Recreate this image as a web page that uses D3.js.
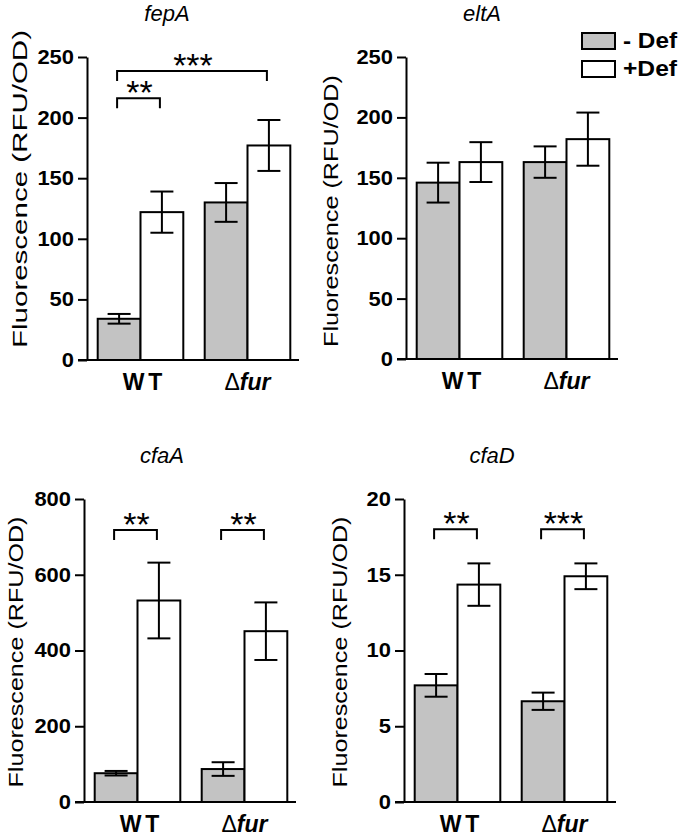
<!DOCTYPE html>
<html>
<head>
<meta charset="utf-8">
<script src="https://cdn.jsdelivr.net/npm/d3@7"></script>
<style>
  html, body { margin: 0; padding: 0; background: #fff; }
  svg { display: block; }
  text { font-family: "Liberation Sans", Arial, sans-serif; fill: #000; }
</style>
</head>
<body>
<div id="chart"></div>
<script>
// ---------------- DATA ----------------
const genes = ["fepA", "eltA", "cfaA", "cfaD"];
const groups = ["WT", "Δfur"];
const series = ["- Def", "+Def"];

const fepA_minus = [34, 130];
const fepA_minus_err = [4, 16];
const fepA_plus = [122, 177];
const fepA_plus_err = [17, 21];

const eltA_minus = [146, 163];
const eltA_minus_err = [16.5, 13];
const eltA_plus = [163, 182];
const eltA_plus_err = [16.5, 22];

const cfaA_minus = [76, 87];
const cfaA_minus_err = [6, 18];
const cfaA_plus = [532, 451];
const cfaA_plus_err = [100, 76];

const cfaD_minus = [7.7, 6.65];
const cfaD_minus_err = [0.75, 0.57];
const cfaD_plus = [14.35, 14.9];
const cfaD_plus_err = [1.4, 0.85];

const fepA_ticks = [0, 50, 100, 150, 200, 250];
const eltA_ticks = [0, 50, 100, 150, 200, 250];
const cfaA_ticks = [0, 200, 400, 600, 800];
const cfaD_ticks = [0, 5, 10, 15, 20];

const yLabel = "Fluorescence (RFU/OD)";

// significance brackets: [group, series] from -> to, height in data units, label
const fepA_sig = [
  { from: ["WT", "- Def"], to: ["WT", "+Def"], y: 216, label: "**" },
  { from: ["WT", "- Def"], to: ["Δfur", "+Def"], y: 238.5, label: "***" }
];
const eltA_sig = [];
const cfaA_sig = [
  { from: ["WT", "- Def"], to: ["WT", "+Def"], y: 718, label: "**" },
  { from: ["Δfur", "- Def"], to: ["Δfur", "+Def"], y: 718, label: "**" }
];
const cfaD_sig = [
  { from: ["WT", "- Def"], to: ["WT", "+Def"], y: 18, label: "**" },
  { from: ["Δfur", "- Def"], to: ["Δfur", "+Def"], y: 18, label: "***" }
];

// ---------------- LAYOUT ----------------
const W = 680, H = 837;
const layout = {
  fepA: { x0: 87,  yTop: 57,  yBot: 360, titleX: 167, titleY: 21,  labX: 27,  labY: 189, labLen: 318 },
  eltA: { x0: 406, yTop: 57,  yBot: 359, titleX: 482, titleY: 21,  labX: 338, labY: 211, labLen: 272 },
  cfaA: { x0: 84,  yTop: 499, yBot: 802, titleX: 162, titleY: 463, labX: 23,  labY: 652, labLen: 271 },
  cfaD: { x0: 404, yTop: 499, yBot: 802, titleX: 492, titleY: 463, labX: 347, labY: 652, labLen: 271 }
};
const colors = { "- Def": "#c3c3c3", "+Def": "#ffffff" };
const SW = 2;

const panelData = {
  fepA: { minus: fepA_minus, minusErr: fepA_minus_err, plus: fepA_plus, plusErr: fepA_plus_err, ticks: fepA_ticks, sig: fepA_sig },
  eltA: { minus: eltA_minus, minusErr: eltA_minus_err, plus: eltA_plus, plusErr: eltA_plus_err, ticks: eltA_ticks, sig: eltA_sig },
  cfaA: { minus: cfaA_minus, minusErr: cfaA_minus_err, plus: cfaA_plus, plusErr: cfaA_plus_err, ticks: cfaA_ticks, sig: cfaA_sig },
  cfaD: { minus: cfaD_minus, minusErr: cfaD_minus_err, plus: cfaD_plus, plusErr: cfaD_plus_err, ticks: cfaD_ticks, sig: cfaD_sig }
};

const svg = d3.select("#chart").append("svg")
  .attr("width", W).attr("height", H);

genes.forEach(g => {
  const L = layout[g];
  const D = panelData[g];
  const gp = svg.append("g");

  const y = d3.scaleLinear()
    .domain([0, d3.max(D.ticks)])
    .range([L.yBot, L.yTop]);

  const x = d3.scaleBand()
    .domain(groups)
    .range([L.x0, L.x0 + 214])
    .paddingInner(0.2)
    .paddingOuter(0.1);

  const xs = d3.scaleBand()
    .domain(series)
    .range([0, x.bandwidth()])
    .padding(0);

  const rows = [];
  groups.forEach((grp, i) => {
    rows.push({ grp, s: "- Def", v: D.minus[i], e: D.minusErr[i] });
    rows.push({ grp, s: "+Def", v: D.plus[i], e: D.plusErr[i] });
  });

  // bars
  gp.selectAll("rect.bar").data(rows).join("rect")
    .attr("class", "bar")
    .attr("x", d => x(d.grp) + xs(d.s))
    .attr("y", d => y(d.v))
    .attr("width", xs.bandwidth())
    .attr("height", d => y(0) - y(d.v))
    .attr("fill", d => colors[d.s])
    .attr("stroke", "#000")
    .attr("stroke-width", SW);

  // error bars
  const cap = 23;
  const mid = d => x(d.grp) + xs(d.s) + xs.bandwidth() / 2;
  const eb = gp.selectAll("g.err").data(rows).join("g").attr("class", "err")
    .attr("stroke", "#000").attr("stroke-width", SW);
  eb.append("line")
    .attr("x1", mid).attr("x2", mid)
    .attr("y1", d => y(d.v + d.e))
    .attr("y2", d => y(d.v - d.e));
  eb.append("line")
    .attr("x1", d => mid(d) - cap / 2)
    .attr("x2", d => mid(d) + cap / 2)
    .attr("y1", d => y(d.v + d.e))
    .attr("y2", d => y(d.v + d.e));
  eb.append("line")
    .attr("x1", d => mid(d) - cap / 2)
    .attr("x2", d => mid(d) + cap / 2)
    .attr("y1", d => y(d.v - d.e))
    .attr("y2", d => y(d.v - d.e));

  // y axis
  const ya = gp.append("g")
    .attr("transform", `translate(${L.x0},0)`)
    .call(d3.axisLeft(y).tickValues(D.ticks).tickSize(9).tickSizeOuter(0).tickPadding(4));
  ya.selectAll("path, line").attr("stroke", "#000").attr("stroke-width", SW);
  ya.selectAll("text")
    .attr("font-size", 20)
    .attr("font-weight", "bold")
    .attr("font-family", "'Liberation Sans', Arial, sans-serif")
    .attr("fill", "#000")
    .attr("textLength", d => String(d).length * 12.2)
    .attr("lengthAdjust", "spacingAndGlyphs");

  // x axis baseline
  gp.append("line")
    .attr("x1", L.x0 - 9).attr("x2", L.x0 + 212)
    .attr("y1", y(0)).attr("y2", y(0))
    .attr("stroke", "#000").attr("stroke-width", SW);

  // x axis labels
  const xa = gp.append("g")
    .attr("transform", `translate(0,${y(0)})`)
    .call(d3.axisBottom(x).tickSize(0).tickPadding(0));
  xa.select(".domain").remove();
  xa.selectAll("text").each(function(d) {
    const t = d3.select(this);
    t.text(null)
      .attr("y", 30)
      .attr("dy", 0)
      .attr("font-size", 23)
      .attr("font-family", "'Liberation Sans', Arial, sans-serif")
      .attr("fill", "#000");
    if (d === "WT") {
      t.attr("x", 4);
      t.append("tspan").attr("font-weight", "bold").attr("letter-spacing", 4).text("WT");
    } else {
      t.append("tspan").text("Δ");
      t.append("tspan").attr("font-weight", "bold").attr("font-style", "italic").text("fur");
    }
  });

  // title
  gp.append("text")
    .attr("x", L.titleX).attr("y", L.titleY)
    .attr("text-anchor", "middle")
    .attr("font-size", 22)
    .attr("font-style", "italic")
    .text(g);

  // y label
  gp.append("text")
    .attr("transform", `translate(${L.labX},${L.labY}) rotate(-90)`)
    .attr("text-anchor", "middle")
    .attr("font-size", 21)
    .attr("textLength", L.labLen)
    .attr("lengthAdjust", "spacingAndGlyphs")
    .text(yLabel);

  // significance brackets
  const cx = (pair) => x(pair[0]) + xs(pair[1]) + xs.bandwidth() / 2;
  D.sig.forEach(s => {
    const x1 = cx(s.from) - 2, x2 = cx(s.to) - 2, yy = y(s.y);
    gp.append("path")
      .attr("d", `M${x1},${yy + 10}V${yy}H${x2}V${yy + 10}`)
      .attr("fill", "none").attr("stroke", "#000").attr("stroke-width", SW);
    gp.append("text")
      .attr("x", (x1 + x2) / 2 + 1).attr("y", yy + 6)
      .attr("text-anchor", "middle")
      .attr("font-size", 34)
      .text(s.label);
  });
});

// legend
const lg = svg.append("g");
series.forEach((s, i) => {
  lg.append("rect")
    .attr("x", 582).attr("y", 33 + i * 28)
    .attr("width", 33).attr("height", 16)
    .attr("fill", colors[s]).attr("stroke", "#000").attr("stroke-width", SW);
  lg.append("text")
    .attr("x", 623).attr("y", 48 + i * 28)
    .attr("font-size", 22)
    .attr("font-weight", "bold")
    .attr("textLength", 54)
    .attr("lengthAdjust", "spacingAndGlyphs")
    .text(s);
});
</script>
</body>
</html>
